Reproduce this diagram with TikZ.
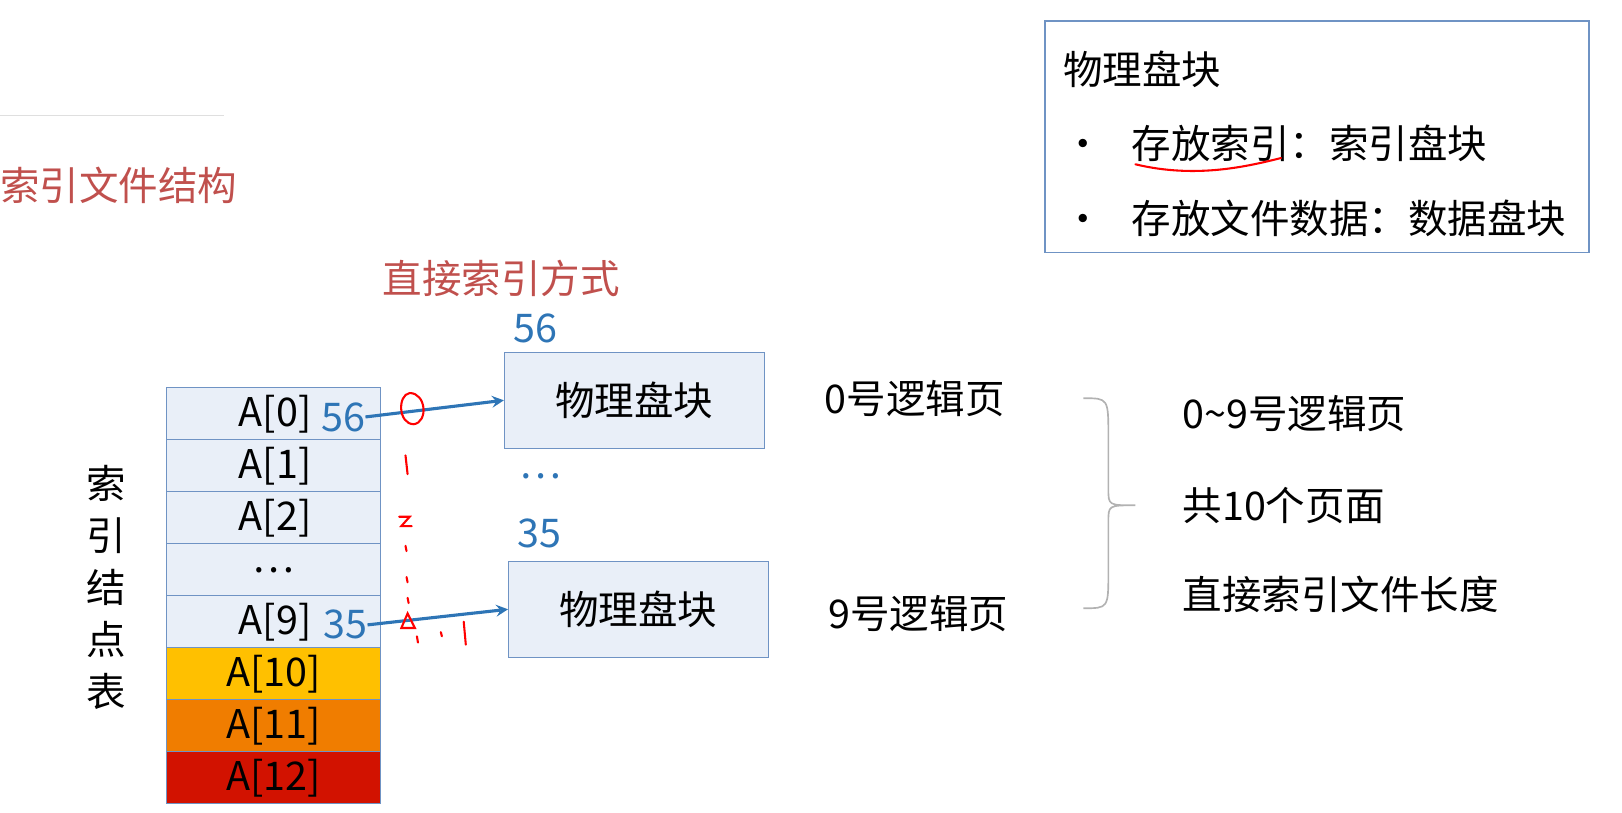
\documentclass[tikz,border=0pt]{standalone}
\usepackage{fontspec}
\setmainfont{Noto Sans CJK SC}
\definecolor{bl}{HTML}{2E75B6}
\definecolor{tr}{HTML}{C0504D}
\definecolor{cellf}{HTML}{E9EFF8}
\definecolor{celld}{HTML}{6F93C4}
\begin{document}
\begin{tikzpicture}[x=0.5pt,y=-0.5pt,
 cell/.style={draw=celld,fill=cellf,minimum width=103pt,minimum height=25pt,inner sep=0pt,font=\fontsize{19}{19}\selectfont},
 blk/.style={draw=celld,fill=cellf,minimum width=125pt,minimum height=46pt,inner sep=0pt,font=\fontsize{19}{19}\selectfont},
 txt/.style={font=\fontsize{19}{19}\selectfont,inner sep=0pt},
 num/.style={font=\fontsize{19}{19}\selectfont,text=bl,inner sep=0pt},
 arr/.style={bl,line width=1.5pt,-stealth},
 hand/.style={red,line width=1pt,line cap=round}]
\useasboundingbox (0,0) rectangle (1560,781);
\draw[gray!25] (0,111) -- (215,111);
\node[txt,text=tr,anchor=west] (title) at (0,178) {索引文件结构};
\node[txt,text=tr] (mode) at (482,268) {直接索引方式};
\foreach \i/\t in {0/A[0],1/A[1],2/A[2],3/…,4/A[9]}
  \node[cell] (c\i) at (263,{398+50*\i}) {};
\foreach \i/\t in {0/A[0],1/A[1],2/A[2],4/A[9]}
  \node[txt,anchor=east] (t\i) at (300,{398+50*\i}) {\t};
\node[txt] (t3) at (263,548) {…};
\node[cell,fill={rgb,255:red,255;green,192;blue,0}] (c5) at (263,648) {A[10]};
\node[cell,fill={rgb,255:red,240;green,125;blue,0}] (c6) at (263,698) {A[11]};
\node[cell,fill={rgb,255:red,210;green,18;blue,0}] (c7) at (263,748) {A[12]};
\node[txt,align=center,font=\fontsize{19}{25}\selectfont] (vt) at (102,565) {索\\引\\结\\点\\表};
\node[num] (n56a) at (330,401) {56};
\node[num] (n35a) at (332,601) {35};
\node[blk] (b1) at (610,385) {物理盘块};
\node[blk] (b2) at (614,586) {物理盘块};
\node[num] (n56) at (515,316) {56};
\node[num] (n35) at (519,513) {35};
\node[txt,text=bl] (dots) at (520,458) {…};
\draw[arr] (n56a.east) -- (b1.west);
\draw[arr] (n35a.east) -- (b2.west);
\node[txt] (l0) at (880,383) {0号逻辑页};
\node[txt] (l9) at (883,590) {9号逻辑页};
\draw[gray!60,line width=0.8pt] (1042,383) .. controls (1066,383) and (1066,383) .. (1066,420) -- (1066,470) .. controls (1066,486) .. (1092,486) .. controls (1066,486) .. (1066,502) -- (1066,550) .. controls (1066,585) and (1066,585) .. (1042,585);
\node[txt,anchor=west] (r1) at (1137,398) {0\textasciitilde9号逻辑页};
\node[txt,anchor=west] (r2) at (1137,486) {共10个页面};
\node[txt,anchor=west] (r3) at (1137,572) {直接索引文件长度};
\node[draw=celld,line width=0.8pt,minimum width=261.5pt,minimum height=111.5pt,inner sep=0pt] (info) at (1266.5,131.5) {};
\node[txt,anchor=west] (i0) at (1022,67) {物理盘块};
\node[txt,anchor=west] (i1) at (1022,138) {•\hspace{14pt}存放索引：索引盘块};
\node[txt,anchor=west] (i2) at (1022,210) {•\hspace{14pt}存放文件数据：数据盘块};
\draw[hand] (1092,158) .. controls (1150,172) and (1200,160) .. (1232,152);
\draw[hand] (394,378) .. controls (382,380) and (383,408) .. (398,408) .. controls (412,406) and (410,378) .. (394,378);
\draw[hand] (390,438) -- (392,456);
\draw[hand] (384,497) -- (394,497) -- (386,506) -- (396,506);
\draw[hand] (390,525) -- (391,530);
\draw[hand] (391,555) -- (392,560);
\draw[hand] (392,575) -- (393,580);
\draw[hand] (392,590) -- (386,604) -- (399,604) -- cycle;
\draw[hand] (401,612) -- (402,618);
\draw[hand] (424,608) -- (425,612);
\draw[hand] (446,598) -- (448,620);
\end{tikzpicture}
\end{document}
